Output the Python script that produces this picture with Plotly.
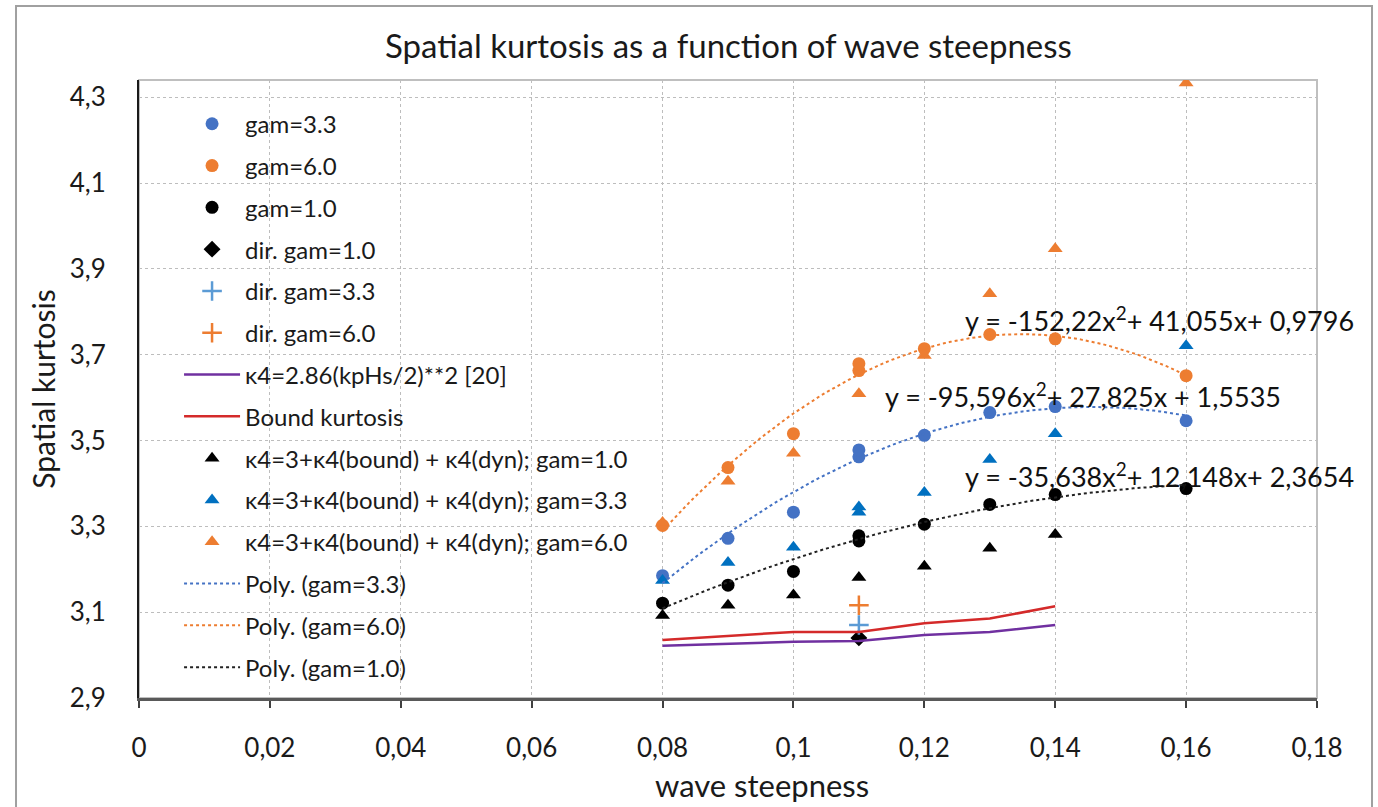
import numpy as np
import plotly.graph_objects as go

# ---------------- data ----------------
x_gam33 = [0.08, 0.09, 0.10, 0.11, 0.11, 0.12, 0.13, 0.14, 0.16]
y_gam33 = [3.185, 3.272, 3.333, 3.462, 3.478, 3.512, 3.565, 3.579, 3.546]

x_gam60 = [0.08, 0.09, 0.10, 0.11, 0.11, 0.12, 0.13, 0.14, 0.16]
y_gam60 = [3.302, 3.437, 3.516, 3.663, 3.679, 3.714, 3.747, 3.737, 3.651]

x_gam10 = [0.08, 0.09, 0.10, 0.11, 0.11, 0.12, 0.13, 0.14, 0.16]
y_gam10 = [3.121, 3.163, 3.195, 3.266, 3.278, 3.305, 3.351, 3.374, 3.388]

x_dir10 = [0.11]
y_dir10 = [3.040]
x_dir33 = [0.11]
y_dir33 = [3.070]
x_dir60 = [0.11]
y_dir60 = [3.116]

x_ref20 = [0.08, 0.10, 0.11, 0.12, 0.13, 0.14]
y_ref20 = [3.022, 3.031, 3.033, 3.047, 3.054, 3.070]

x_bound = [0.08, 0.10, 0.11, 0.12, 0.13, 0.14]
y_bound = [3.035, 3.054, 3.054, 3.074, 3.085, 3.114]

x_tri10 = [0.08, 0.09, 0.10, 0.11, 0.12, 0.13, 0.14]
y_tri10 = [3.092, 3.116, 3.140, 3.181, 3.207, 3.249, 3.281]

x_tri33 = [0.08, 0.09, 0.10, 0.11, 0.11, 0.12, 0.13, 0.14, 0.16]
y_tri33 = [3.174, 3.216, 3.251, 3.333, 3.345, 3.379, 3.456, 3.516, 3.721]

x_tri60 = [0.08, 0.09, 0.10, 0.11, 0.12, 0.13, 0.14, 0.16]
y_tri60 = [3.309, 3.405, 3.470, 3.609, 3.698, 3.842, 3.947, 4.333]

# polynomial trendline coefficients (as printed on the chart): a*x^2 + b*x + c
poly33 = [-95.596, 27.825, 1.5535]
poly60 = [-152.22, 41.055, 0.9796]
poly10 = [-35.638, 12.148, 2.3654]
trend_range = [0.08, 0.16]

eq_text_60 = "y = -152,22x<sup>2</sup>+ 41,055x+ 0,9796"
eq_text_33 = "y = -95,596x<sup>2</sup>+ 27,825x + 1,5535"
eq_text_10 = "y = -35,638x<sup>2</sup>+ 12,148x+ 2,3654"

x_tickvals = [0, 0.02, 0.04, 0.06, 0.08, 0.10, 0.12, 0.14, 0.16, 0.18]
x_ticktext = ["0", "0,02", "0,04", "0,06", "0,08", "0,1", "0,12", "0,14", "0,16", "0,18"]
y_tickvals = [2.9, 3.1, 3.3, 3.5, 3.7, 3.9, 4.1, 4.3]
y_ticktext = ["2,9", "3,1", "3,3", "3,5", "3,7", "3,9", "4,1", "4,3"]

# ---------------- styling ----------------
FONT = "Lato"
BLUE = "#4472C4"
ORANGE = "#ED7D31"
BLACK = "#000000"
LBLUE = "#5B9BD5"
TBLUE = "#0070C0"
PURPLE = "#7030A0"
RED = "#D42A2A"
MS = 13

fig = go.Figure()


def add(name, x, y, **kw):
    fig.add_trace(go.Scatter(x=x, y=y, name=name, legendgroup=name, **kw))


add("gam=3.3", x_gam33, y_gam33, mode="markers",
    marker=dict(symbol="circle", size=MS, color=BLUE))
add("gam=6.0", x_gam60, y_gam60, mode="markers",
    marker=dict(symbol="circle", size=MS, color=ORANGE))
add("gam=1.0", x_gam10, y_gam10, mode="markers",
    marker=dict(symbol="circle", size=MS, color=BLACK))
add("dir. gam=1.0", x_dir10, y_dir10, mode="markers",
    marker=dict(symbol="diamond", size=MS, color=BLACK))
add("dir. gam=3.3", x_dir33, y_dir33, mode="markers",
    marker=dict(symbol="cross-thin", size=MS + 1, line=dict(color=LBLUE, width=2.5)))
add("dir. gam=6.0", x_dir60, y_dir60, mode="markers",
    marker=dict(symbol="cross-thin", size=MS + 1, line=dict(color=ORANGE, width=2.5)))
add("\u03ba4=2.86(kpHs/2)**2 [20]", x_ref20, y_ref20, mode="lines",
    line=dict(color=PURPLE, width=2.5))
add("Bound kurtosis", x_bound, y_bound, mode="lines",
    line=dict(color=RED, width=2.5))
add("\u03ba4=3+\u03ba4(bound) + \u03ba4(dyn); gam=1.0", x_tri10, y_tri10, mode="markers",
    marker=dict(symbol="triangle-up", size=MS, color=BLACK))
add("\u03ba4=3+\u03ba4(bound) + \u03ba4(dyn); gam=3.3", x_tri33, y_tri33, mode="markers",
    marker=dict(symbol="triangle-up", size=MS, color=TBLUE))
add("\u03ba4=3+\u03ba4(bound) + \u03ba4(dyn); gam=6.0", x_tri60, y_tri60, mode="markers",
    marker=dict(symbol="triangle-up", size=MS, color=ORANGE))

xt = np.linspace(trend_range[0], trend_range[1], 81)
for nm, coef, col in [("Poly. (gam=3.3)", poly33, BLUE),
                      ("Poly. (gam=6.0)", poly60, ORANGE),
                      ("Poly. (gam=1.0)", poly10, "#222222")]:
    add(nm, xt, np.polyval(coef, xt), mode="lines",
        line=dict(color=col, width=2, dash="dot"))

annots = []
for txt, ax_, ay_ in [(eq_text_60, 0.1259, 3.784),
                      (eq_text_33, 0.1137, 3.607),
                      (eq_text_10, 0.1259, 3.419)]:
    annots.append(dict(x=ax_, y=ay_, xref="x", yref="y", text=txt, showarrow=False,
                       xanchor="left", yanchor="middle",
                       font=dict(family=FONT, size=27, color="#111111")))

# x-axis title (placed as in the reference, slightly right of centre)
annots.append(dict(x=0.529, y=-0.1068, xref="paper", yref="paper",
                   text="wave steepness", showarrow=False,
                   xanchor="center", yanchor="top",
                   font=dict(family=FONT, size=31, color="#1a1a1a")))

shapes = [
    # outer chart border
    dict(type="rect", xref="paper", yref="paper", x0=-0.1044, x1=1.0467,
         y0=-0.25, y1=1.1197, line=dict(color="#A0A0A0", width=2), layer="below"),
    # plot-area border (top & right)
    dict(type="rect", xref="paper", yref="paper", x0=0, x1=1, y0=0, y1=1,
         line=dict(color="#BFBFBF", width=2), layer="below"),
]

fig.update_layout(
    width=1378, height=807,
    margin=dict(l=139, r=61, t=80, b=109, autoexpand=False),
    paper_bgcolor="white", plot_bgcolor="white",
    font=dict(family=FONT, color="#1a1a1a"),
    title=dict(text="Spatial kurtosis as a function of wave steepness",
               x=0.5286, xanchor="center", y=0.942, yanchor="middle",
               font=dict(family=FONT, size=33, color="#1a1a1a")),
    showlegend=True,
    legend=dict(x=0.034, y=0.965, xanchor="left", yanchor="top",
                bgcolor="rgba(0,0,0,0)", traceorder="grouped", tracegroupgap=7.6,
                itemwidth=56, maxheight=800,
                font=dict(family=FONT, size=24, color="#1a1a1a")),
    annotations=annots,
    shapes=shapes,
)

fig.update_xaxes(range=[0, 0.18], tickvals=x_tickvals, ticktext=x_ticktext,
                 showgrid=True, gridcolor="#BDBDBD", gridwidth=1, griddash="dot",
                 showline=True, linecolor="#595959", linewidth=3,
                 ticks="outside", ticklen=7, tickwidth=2, tickcolor="#404040",
                 ticklabelstandoff=18, zeroline=False,
                 tickfont=dict(family=FONT, size=26, color="#1a1a1a"))
fig.update_yaxes(range=[2.9, 4.34], tickvals=y_tickvals, ticktext=y_ticktext,
                 showgrid=True, gridcolor="#BDBDBD", gridwidth=1, griddash="dot",
                 showline=True, linecolor="#1a1a1a", linewidth=2,
                 ticks="", ticklabelstandoff=26, zeroline=False,
                 tickfont=dict(family=FONT, size=26, color="#1a1a1a"),
                 title=dict(text="Spatial kurtosis", standoff=5,
                            font=dict(family=FONT, size=30, color="#1a1a1a")))

fig.write_html("out.html")
